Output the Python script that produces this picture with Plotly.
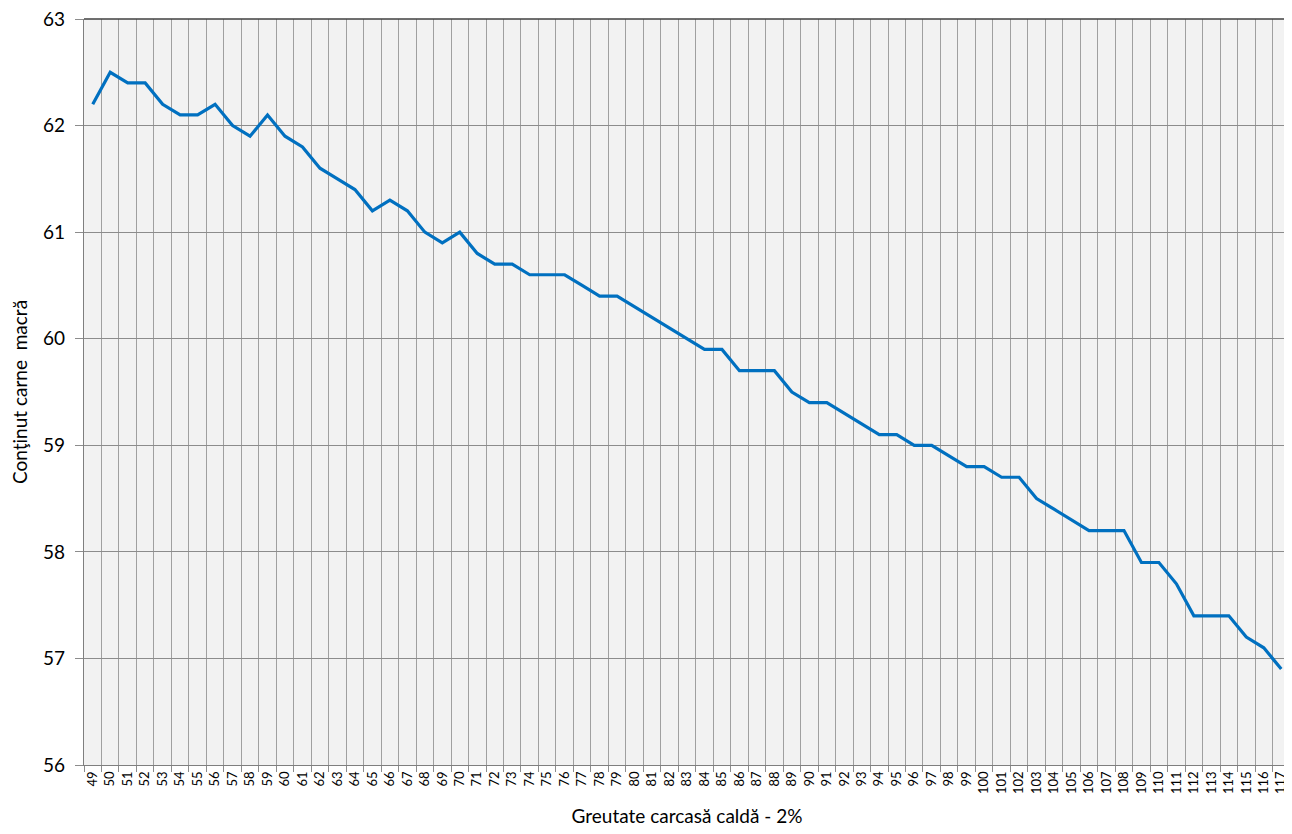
import plotly.graph_objects as go

weights = list(range(49, 118))
categories = [str(w) for w in weights]
meat_content = [
    62.2, 62.5, 62.4, 62.4, 62.2, 62.1, 62.1, 62.2, 62.0, 61.9,   # 49-58
    62.1, 61.9, 61.8, 61.6, 61.5, 61.4, 61.2, 61.3, 61.2, 61.0,   # 59-68
    60.9, 61.0, 60.8, 60.7, 60.7, 60.6, 60.6, 60.6, 60.5, 60.4,   # 69-78
    60.4, 60.3, 60.2, 60.1, 60.0, 59.9, 59.9, 59.7, 59.7, 59.7,   # 79-88
    59.5, 59.4, 59.4, 59.3, 59.2, 59.1, 59.1, 59.0, 59.0, 58.9,   # 89-98
    58.8, 58.8, 58.7, 58.7, 58.5, 58.4, 58.3, 58.2, 58.2, 58.2,   # 99-108
    57.9, 57.9, 57.7, 57.4, 57.4, 57.4, 57.2, 57.1, 56.9,         # 109-117
]
y_ticks = [56, 57, 58, 59, 60, 61, 62, 63]

FONT = "Lato, 'Open Sans', sans-serif"

fig = go.Figure()
fig.add_trace(go.Scatter(
    x=categories, y=meat_content, mode="lines",
    line=dict(color="#0070c0", width=3.2),
    showlegend=False, hoverinfo="x+y",
))

# page body has an 8px margin, so the figure is drawn 8px right/down
fig.update_layout(
    width=1284, height=826,
    margin=dict(l=76, r=2, t=11, b=69),
    paper_bgcolor="white",
    plot_bgcolor="#f2f2f2",
    font=dict(family=FONT, color="black"),
    shapes=[
        dict(type="line", xref="paper", yref="paper", x0=0, x1=1, y0=1, y1=1,
             line=dict(color="#404040", width=1.5)),
        dict(type="line", xref="paper", yref="paper", x0=1, x1=1, y0=0, y1=1,
             line=dict(color="#404040", width=1.5)),
    ],
)
fig.update_xaxes(
    type="category",
    tickson="boundaries",
    showgrid=True, gridcolor="#a0a0a0", gridwidth=1.3,
    ticks="outside", ticklen=6, tickcolor="#8c8c8c", tickwidth=1,
    tickangle=-90, tickfont=dict(size=13, family=FONT),
    showline=True, linecolor="#7f7f7f", linewidth=1.3,
    automargin=False,
    range=[-0.5, len(categories) - 0.5],
    title=dict(text="Greutate carcasă caldă - 2%", font=dict(size=19, family=FONT), standoff=16),
)
fig.update_yaxes(
    range=[56, 63], tickvals=y_ticks,
    showgrid=True, gridcolor="#8c8c8c", gridwidth=1.3,
    ticks="outside", ticklen=8, tickcolor="#8c8c8c", tickwidth=1,
    tickfont=dict(size=19, family=FONT), ticklabelstandoff=6,
    ticklabeloverflow="allow",
    showline=True, linecolor="#7f7f7f", linewidth=1.3,
    zeroline=False, automargin=False,
    title=dict(text="Conţinut carne  macră", font=dict(size=19, family=FONT), standoff=12),
)

fig.write_html("out.html")
